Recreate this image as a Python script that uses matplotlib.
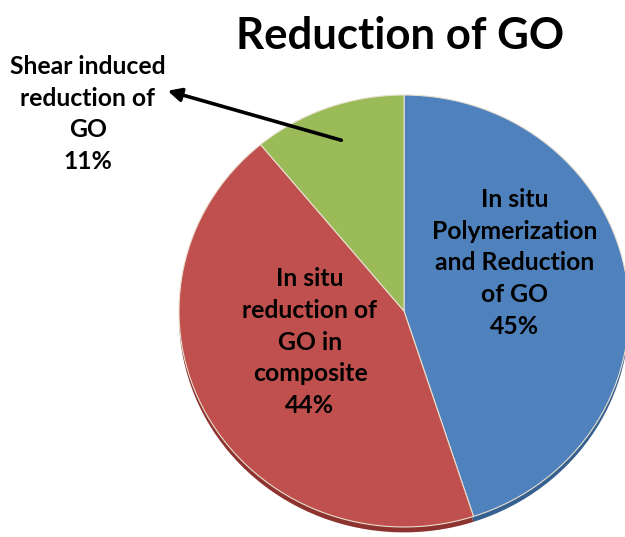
import matplotlib
matplotlib.use("Agg")
import matplotlib.pyplot as plt

categories = ["In situ\nPolymerization\nand Reduction\nof GO",
              "In situ\nreduction of\nGO in\ncomposite",
              "Shear induced\nreduction of\nGO"]
values = [45, 44, 11]
colors = ["#4F81BD", "#C0504D", "#9BBB59"]
rim_colors = ["#35608f", "#8e3230", "#6f8a3a"]
title = "Reduction of GO"

W, H = 625, 537
fig = plt.figure(figsize=(W / 100, H / 100), dpi=100)
fig.patch.set_facecolor("white")

# pie axes (slightly elliptical like the 3D Excel pie)
pl, pr, pt, pb = 179, 629, 95, 527
ax = fig.add_axes([pl / W, 1 - pb / H, (pr - pl) / W, (pb - pt) / H])
# darker rim underneath to mimic the 3D edge
ax.pie(values, colors=rim_colors, startangle=90, counterclock=False,
       radius=1.0, center=(0, -0.025), wedgeprops=dict(linewidth=0))
ax.pie(values, colors=colors, startangle=90, counterclock=False,
       radius=1.0, wedgeprops=dict(edgecolor="#e8e0d0", linewidth=0.8))
ax.set_aspect("auto")
ax.set_xlim(-1, 1)
ax.set_ylim(-1, 1)
ax.axis("off")

# overlay axes in pixel coordinates for text
ov = fig.add_axes([0, 0, 1, 1])
ov.set_xlim(0, W)
ov.set_ylim(H, 0)
ov.axis("off")

font = "Lato"
ov.text(400, 36, title, ha="center", va="center", fontsize=31.5,
        fontweight="bold", family=font)

total = sum(values)
pos = [(515, 263), (310, 342), (88, 114)]
for (x, y), cat, v in zip(pos, categories, values):
    label = f"{cat}\n{round(100 * v / total)}%"
    ov.text(x, y, label, ha="center", va="center", fontsize=17.8,
            fontweight="bold", family=font, linespacing=1.47)

ov.annotate("", xy=(165, 90), xytext=(344, 141),
            arrowprops=dict(arrowstyle="-|>", color="black", lw=2.6,
                            mutation_scale=20))

fig.savefig("out.png", dpi=100, facecolor="white")
